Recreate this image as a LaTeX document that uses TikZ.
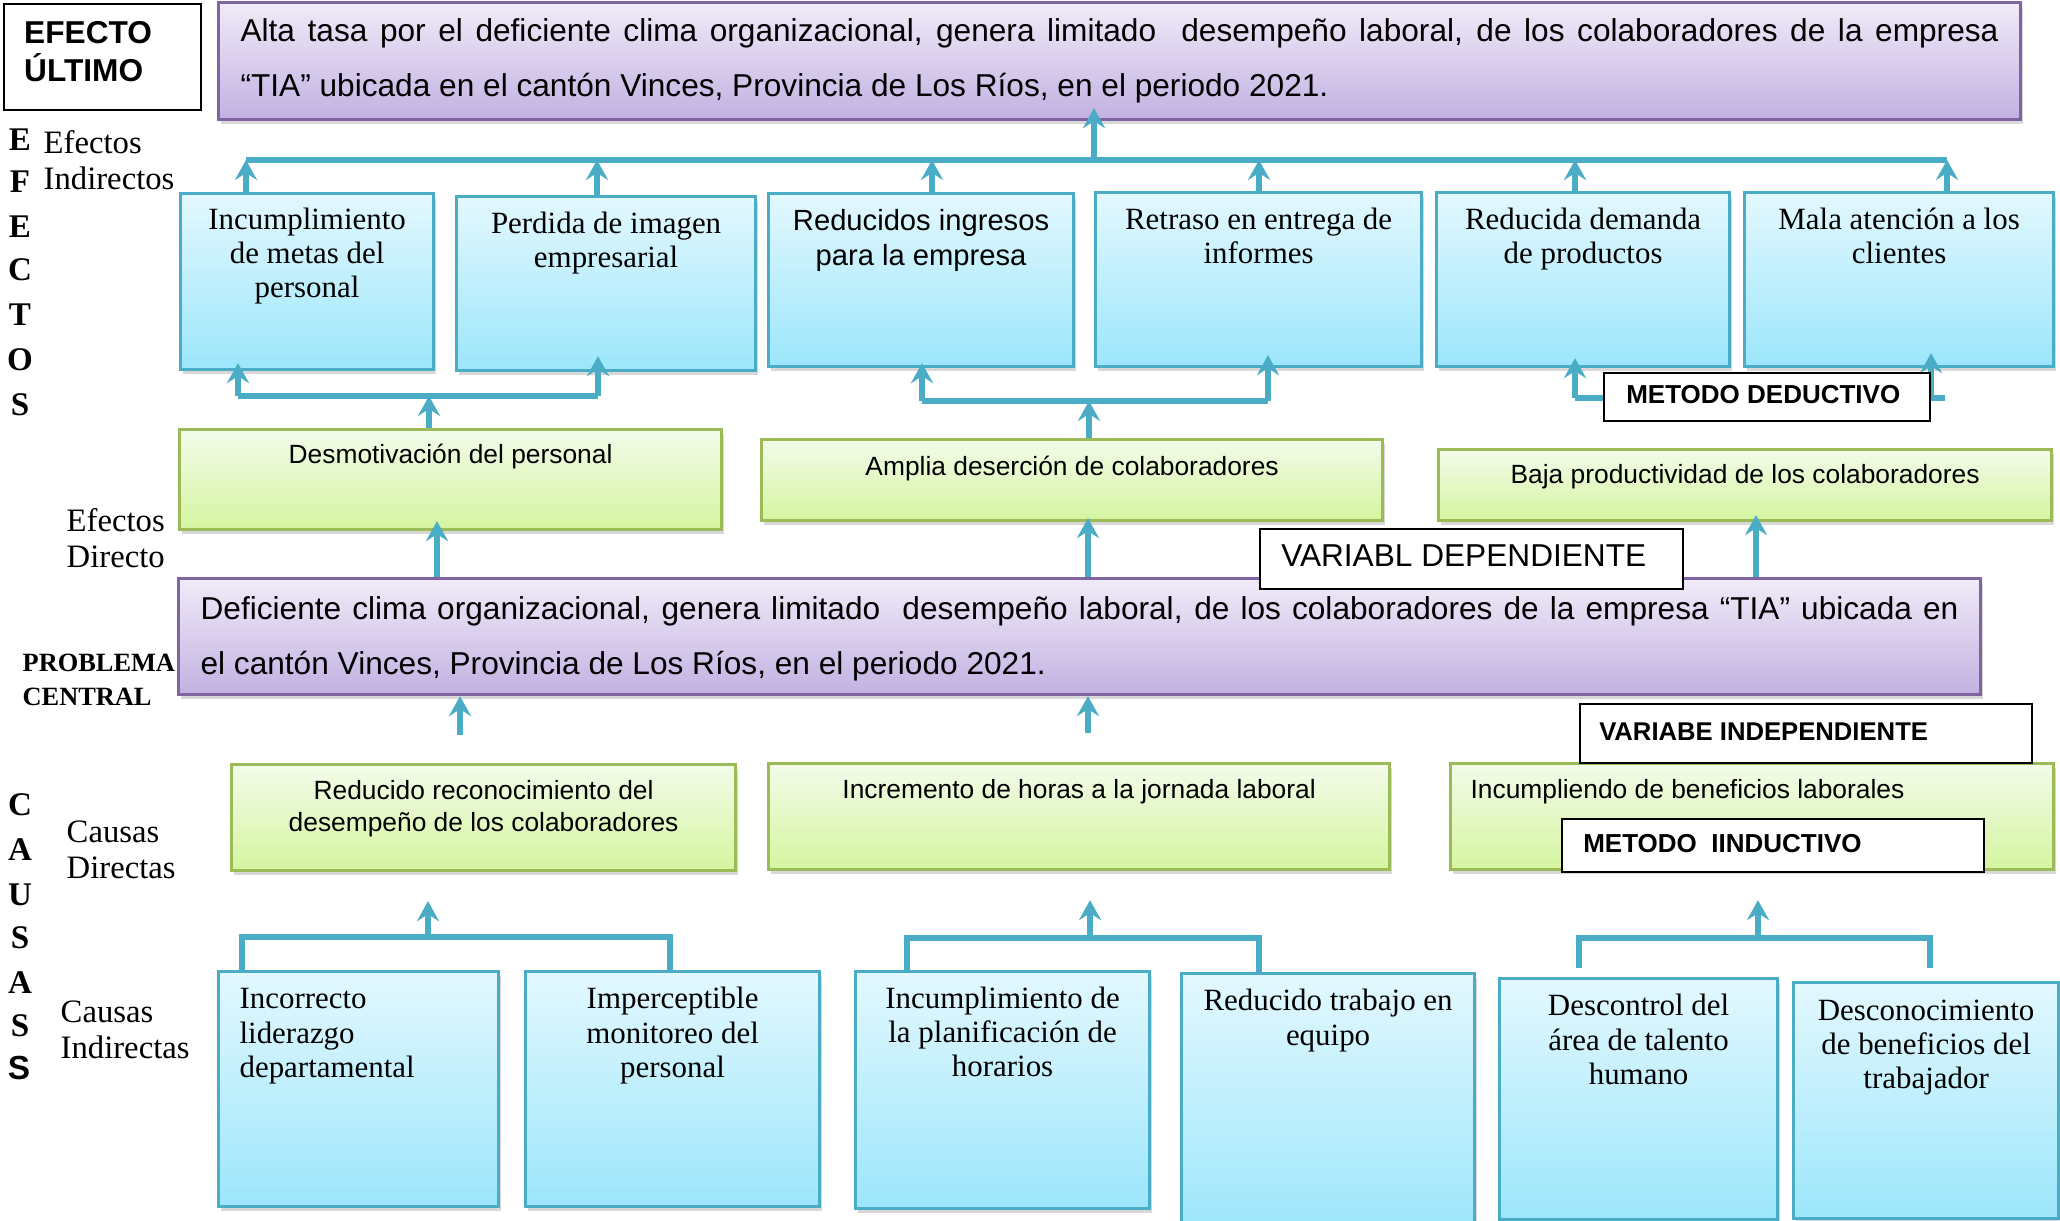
\documentclass[tikz,border=0pt]{standalone}
\usepackage{fontspec}
\setmainfont{Liberation Serif}
\setsansfont{Liberation Sans}
\usetikzlibrary{arrows.meta,shadows}

\newlength{\px}
\setlength{\px}{0.1mm}

\definecolor{azulborde}{HTML}{4BACC6}
\definecolor{azularriba}{HTML}{E3F8FE}
\definecolor{azulabajo}{HTML}{9CE6FB}
\definecolor{verdeborde}{HTML}{9BBB59}
\definecolor{verdearriba}{HTML}{F3FBEA}
\definecolor{verdeabajo}{HTML}{D5F5A0}
\definecolor{moradoborde}{HTML}{8064A2}
\definecolor{moradoarriba}{HTML}{F0EBF8}
\definecolor{moradoabajo}{HTML}{C2B1E2}
\definecolor{flechacolor}{HTML}{4BACC6}

\tikzset{
  caja/.style n args={3}{anchor=north west, inner sep=0pt,
    execute at begin node={\begin{minipage}[t][#2\px][t]{#1\px}\vspace*{#3\px}\centering\strut},
    execute at end node={\end{minipage}}},
  rotulo/.style n args={3}{anchor=north west, inner sep=0pt, draw=black, line width=0.7pt, fill=white,
    execute at begin node={\begin{minipage}[c][#2\px][c]{#1\px}\leftskip=#3\px\relax\strut},
    execute at end node={\end{minipage}}},
  sombra/.style={drop shadow={shadow xshift=0.8pt, shadow yshift=-1.2pt, opacity=0.3}},
  azul/.style={sombra, draw=azulborde, line width=0.9pt, top color=azularriba, bottom color=azulabajo,
    font=\fontsize{8.8}{9.7}\selectfont},
  verde/.style={sombra, draw=verdeborde, line width=0.9pt, top color=verdearriba, bottom color=verdeabajo,
    font=\sffamily\fontsize{7.5}{9.1}\selectfont},
  morado/.style={sombra, draw=moradoborde, line width=0.9pt, top color=moradoarriba, bottom color=moradoabajo,
    font=\sffamily\fontsize{9}{15.6}\selectfont},
  lado/.style={anchor=west, align=left, inner sep=0pt, font=\fontsize{9.3}{10.3}\selectfont},
  letra/.style={inner sep=0pt, font=\bfseries\fontsize{9.4}{10}\selectfont},
  flecha/.style={draw=flechacolor, line width=1.5pt, -{Stealth[length=5.7pt, width=6.3pt, inset=2pt]}},
  barra/.style={draw=flechacolor, line width=1.5pt},
}

\begin{document}
\begin{tikzpicture}[x=0.1mm, y=-0.1mm]
\path[use as bounding box, fill=white] (0,0) rectangle (2060,1221);

% efecto ultimo
\node[caja={197}{106}{12.9}, draw=black, line width=0.7pt, fill=white, font=\sffamily\bfseries\fontsize{9}{10.8}\selectfont] (efu) at (3,3) {\raggedright\leftskip=20\px\lineskiplimit=-10pt\relax EFECTO\\ÚLTIMO\par};
\node[morado, caja={1802}{117}{0.5}] (fin) at (217,1) {\parbox[t]{1758\px}{\strut Alta tasa por el deficiente clima organizacional, genera limitado~ desempeño laboral, de los colaboradores de la empresa\linebreak “TIA” ubicada en el cantón Vinces, Provincia de Los Ríos, en el periodo 2021.}};

% efectos indirectos
\node[azul, caja={253}{176}{12.2}] (ei1) at (179,192) {Incumplimiento\\de metas del\\personal};
\node[azul, caja={299}{174}{13}] (ei2) at (455,195) {Perdida de imagen\\empresarial};
\node[azul, caja={305}{173}{12}, font=\sffamily\fontsize{8.3}{10}\selectfont] (ei3) at (767,192) {Reducidos ingresos\\para la empresa};
\node[azul, caja={326}{174}{13.2}] (ei4) at (1094,191) {Retraso en entrega de\\informes};
\node[azul, caja={293}{174}{13.2}] (ei5) at (1435,191) {Reducida demanda\\de productos};
\node[azul, caja={309}{174}{13.2}] (ei6) at (1743,191) {Mala atención a los\\clientes};

% efectos directos
\node[verde, caja={542}{100}{12}] (ed1) at (178,428) {Desmotivación del personal};
\node[verde, caja={621}{81}{13.4}] (ed2) at (760,438) {Amplia deserción de colaboradores};
\node[verde, caja={613}{71}{11.4}] (ed3) at (1437,448) {Baja productividad de los colaboradores};

% problema central
\node[morado, caja={1802}{116}{2.5}] (pc) at (177,577) {\parbox[t]{1758\px}{\strut Deficiente clima organizacional, genera limitado~ desempeño laboral, de los colaboradores de la empresa “TIA” ubicada en\linebreak el cantón Vinces, Provincia de Los Ríos, en el periodo 2021.}};

% causas directas
\node[verde, caja={504}{106}{12.5}] (cd1) at (230,763) {Reducido reconocimiento del\\desempeño de los colaboradores};
\node[verde, caja={621}{106}{12.5}] (cd2) at (767,762) {Incremento de horas a la jornada laboral};
\node[verde, caja={603}{106}{12.5}] (cd3) at (1449,762) {\raggedright\leftskip=20\px\relax Incumpliendo de beneficios laborales\par};

% causas indirectas
\node[azul, caja={280}{235}{13.5}] (ci1) at (217,970) {\raggedright\leftskip=21\px\relax Incorrecto\\liderazgo\\departamental\par};
\node[azul, caja={294}{235}{13.5}] (ci2) at (524,970) {Imperceptible\\monitoreo del\\personal};
\node[azul, caja={294}{237}{12.8}] (ci3) at (854,970) {Incumplimiento de\\la planificación de\\horarios};
\node[azul, caja={293}{260}{13.5}] (ci4) at (1180,972) {Reducido trabajo en\\equipo};
\node[azul, caja={278}{241}{13.5}] (ci5) at (1498,977) {Descontrol del\\área de talento\\humano};
\node[azul, caja={265}{236}{14}] (ci6) at (1792,981) {Desconocimiento\\de beneficios del\\trabajador};

% rotulos de la izquierda
\foreach \ltr/\y in {E/140, F/182, E/227, C/270, T/315, O/360, S/405}
  \node[letra] (ef\y) at (20,\y) {\ltr};
\foreach \ltr/\y in {C/805, A/850, U/895, S/938, A/983, S/1026}
  \node[letra] (ca\y) at (20,\y) {\ltr};
\node[letra, font=\sffamily\bfseries\fontsize{9.5}{10}\selectfont] (ca1068) at (19,1068) {S};
\node[lado] (efind) at (43,160) {Efectos\\Indirectos};
\node[lado] (efdir) at (66,538) {Efectos\\Directo};
\node[lado, font=\bfseries\fontsize{7.5}{9.7}\selectfont] (prob) at (22,680) {PROBLEMA\\CENTRAL};
\node[lado] (cadir) at (66,850) {Causas\\Directas};
\node[lado] (caind) at (60,1030) {Causas\\Indirectas};

% barra superior
\coordinate (s0) at (1094,160);
\foreach \n/\x in {1/246, 2/597, 3/932, 4/1259, 5/1575, 6/1947}
  \coordinate (s\n) at (\x,160);
\draw[barra] (s1) -- (s6);
\foreach \n in {1,...,6}
  \draw[flecha] (ei\n.north -| s\n) -- (s\n);
\draw[flecha, shorten >=-1.3mm] (s0) -- (fin.south -| s0);

% de efectos directos a indirectos
\coordinate (a1) at (238,396);
\coordinate (a0) at (429,396);
\coordinate (a2) at (598,396);
\draw[barra] (a1) -- (a2);
\draw[flecha, shorten >=-0.8mm] (a1) -- (ei1.south -| a1);
\draw[flecha, shorten >=-1.6mm] (a2) -- (ei2.south -| a2);
\draw[flecha] (ed1.north -| a0) -- (a0);

\coordinate (b1) at (922,401);
\coordinate (b0) at (1089,401);
\coordinate (b2) at (1268,401);
\draw[barra] (b1) -- (b2);
\draw[flecha, shorten >=-0.5mm] (b1) -- (ei3.south -| b1);
\draw[flecha, shorten >=-1.3mm] (b2) -- (ei4.south -| b2);
\draw[flecha] (ed2.north -| b0) -- (b0);

\coordinate (c1) at (1575,398);
\coordinate (c3) at (1931,398);
\coordinate (c2) at (1945,398);
\draw[barra] (c1) -- (c2);
\draw[flecha, shorten >=-1mm] (c1) -- (ei5.south -| c1);
\draw[flecha, shorten >=-1.5mm] (c3) -- (ei6.south -| c3);

% del problema central a efectos directos
\coordinate (p1) at (437,0);
\coordinate (p2) at (1088,0);
\coordinate (p3) at (1756,0);
\draw[flecha, shorten >=-1mm] (pc.north -| p1) -- (ed1.south -| p1);
\draw[flecha, shorten >=-0.4mm] (pc.north -| p2) -- (ed2.south -| p2);
\draw[flecha, shorten >=-0.7mm] (pc.north -| p3) -- (ed3.south -| p3);

% de causas directas al problema
\coordinate (q1) at (460,0);
\coordinate (q2) at (1088,0);
\draw[flecha, shorten <=2.8mm] (cd1.north -| q1) -- (pc.south -| q1);
\draw[flecha, shorten <=2.9mm] (cd2.north -| q2) -- (pc.south -| q2);

% de causas indirectas a directas
\coordinate (g1i) at (242,937);
\coordinate (g1m) at (428,937);
\coordinate (g1d) at (670,937);
\draw[barra] (ci1.north -| g1i) -- (g1i) -- (g1d) -- (ci2.north -| g1d);
\draw[flecha, shorten >=2.9mm] (g1m) -- (cd1.south -| g1m);

\coordinate (g2i) at (907,938);
\coordinate (g2m) at (1090,938);
\coordinate (g2d) at (1259,938);
\draw[barra] (ci3.north -| g2i) -- (g2i) -- (g2d) -- (ci4.north -| g2d);
\draw[flecha, shorten >=2.9mm] (g2m) -- (cd2.south -| g2m);

\coordinate (g3i) at (1579,938);
\coordinate (g3m) at (1758,938);
\coordinate (g3d) at (1930,938);
\draw[barra, shorten <=0.9mm, shorten >=1.3mm] (ci5.north -| g3i) -- (g3i) -- (g3d) -- (ci6.north -| g3d);
\draw[flecha, shorten >=2.9mm] (g3m) -- (cd3.south -| g3m);

% rotulos de metodo y variables
\node[rotulo={326}{48}{22}, font=\sffamily\bfseries\fontsize{7.4}{9}\selectfont] (mded) at (1603,372) {METODO DEDUCTIVO};
\node[rotulo={423}{60}{21}, font=\sffamily\fontsize{9}{11}\selectfont] (vdep) at (1259,528) {VARIABL DEPENDIENTE};
\node[rotulo={452}{59}{19}, font=\sffamily\bfseries\fontsize{7.3}{9}\selectfont] (vind) at (1579,703) {VARIABE INDEPENDIENTE};
\node[rotulo={422}{53}{21}, font=\sffamily\bfseries\fontsize{7.4}{9}\selectfont] (mind) at (1561,818) {METODO~ IINDUCTIVO};
\end{tikzpicture}
\end{document}
